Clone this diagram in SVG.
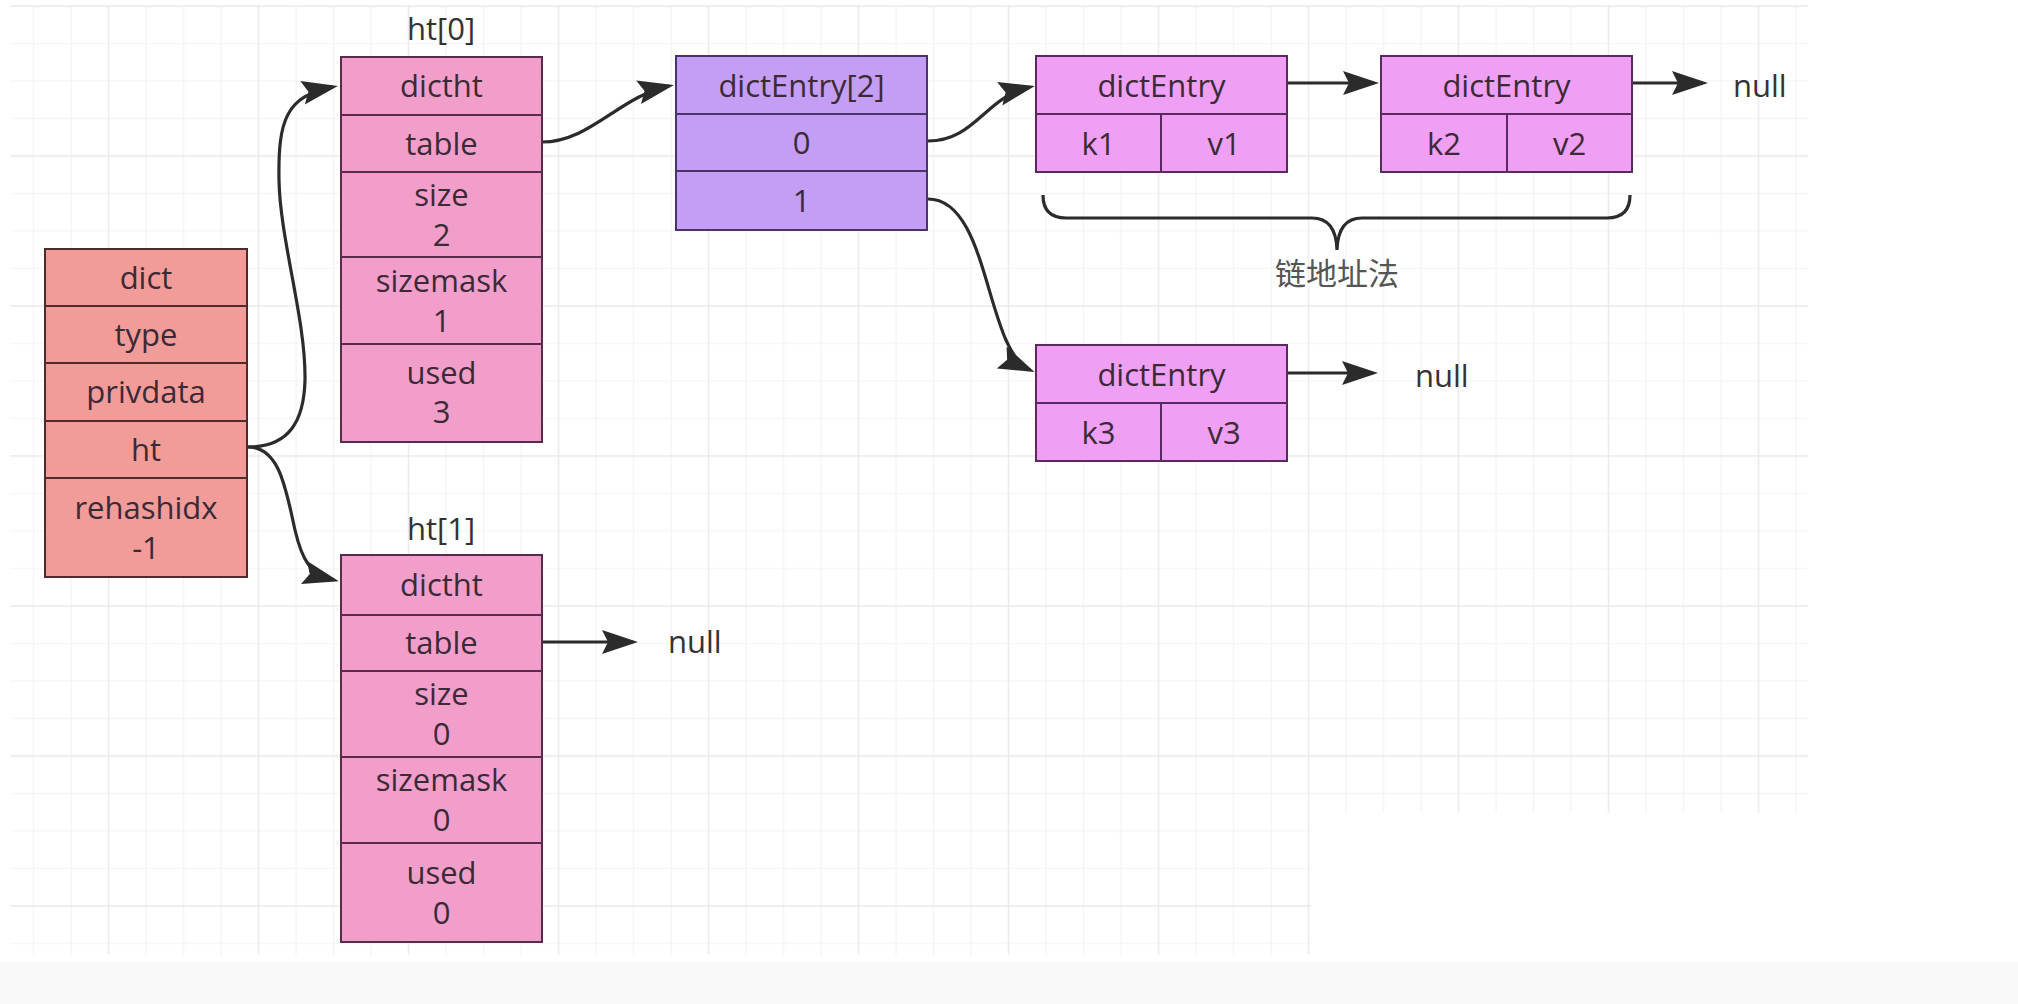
<svg xmlns="http://www.w3.org/2000/svg" width="2018" height="1004" viewBox="0 0 2018 1004">
<style>
  .lbl { font-family: "Open Sans", "Noto Sans", "Liberation Sans", sans-serif; font-size: 31px; fill: #3b2a36; text-anchor: middle; }
  .out { font-family: "Open Sans", "Noto Sans", "Liberation Sans", sans-serif; font-size: 31px; fill: #333333; }
  .cjk { font-family: "Noto Sans CJK SC", "Noto Sans", sans-serif; font-size: 31px; fill: #555555; text-anchor: middle; }
  .dict rect { fill: #f19c99; stroke: #4d2b2b; stroke-width: 2; }
  .ht rect { fill: #f19fca; stroke: #5a2a4e; stroke-width: 2; }
  .arr rect { fill: #c49df4; stroke: #4a3368; stroke-width: 2; }
  .ent rect { fill: #f0a0f4; stroke: #5a2a5e; stroke-width: 2; }
  .ent line { stroke: #5a2a5e; stroke-width: 2; }
  .edge { fill: none; stroke: #2b2b2b; stroke-width: 3.2; marker-end: url(#ah); }
  .brace { fill: none; stroke: #2b2b2b; stroke-width: 3.2; }
</style>
<defs>
  <pattern id="grid" patternUnits="userSpaceOnUse" x="89.75" y="-12.75" width="150" height="150">
    <path d="M56.25,0V150M93.75,0V150M131.25,0V150M0,56.25H150M0,93.75H150M0,131.25H150" stroke="#f2f2f2" stroke-width="1.2" fill="none"/>
    <path d="M18.75,0V150M0,18.75H150" stroke="#e9e9e9" stroke-width="1.4" fill="none"/>
  </pattern>
  <marker id="ah" markerUnits="userSpaceOnUse" markerWidth="38" markerHeight="26" refX="31" refY="13" orient="auto">
    <path d="M0,1 L36,13 L0,25 L6,13 z" fill="#2b2b2b"/>
  </marker>
</defs>

<rect x="0" y="0" width="2018" height="1004" fill="#ffffff"/>
<rect x="10" y="5" width="1798" height="950" fill="url(#grid)"/>
<rect x="1311" y="813" width="498" height="143" fill="#ffffff"/>
<rect x="0" y="962" width="2018" height="42" fill="#f9f9f9"/>

<g id="connectors">
  <path class="edge" d="M248,447 C290,447 304,420 305,380 C306,320 280,240 279,180 C278,120 286,96 333,87"/>
  <path class="edge" d="M248,447 C280,447 286,490 295,530 C302,560 310,574 334,580"/>
  <path class="edge" d="M542,142 C590,142 620,96 669,86"/>
  <path class="edge" d="M542,642 L633,642"/>
  <path class="edge" d="M928,141 C975,141 985,97 1030,87"/>
  <path class="edge" d="M928,199 C990,199 985,350 1030,370"/>
  <path class="edge" d="M1287,83 L1374,83"/>
  <path class="edge" d="M1632,83 L1703,83"/>
  <path class="edge" d="M1287,373 L1373,373"/>
</g>

<g id="dict" class="dict">
  <rect x="45" y="249" width="202" height="57"/>
  <rect x="45" y="306" width="202" height="57"/>
  <rect x="45" y="363" width="202" height="58"/>
  <rect x="45" y="421" width="202" height="57"/>
  <rect x="45" y="478" width="202" height="99"/>
  <text class="lbl" x="146" y="289">dict</text>
  <text class="lbl" x="146" y="346">type</text>
  <text class="lbl" x="146" y="403">privdata</text>
  <text class="lbl" x="146" y="461">ht</text>
  <text class="lbl" x="146" y="519">rehashidx</text>
  <text class="lbl" x="146" y="559">-1</text>
</g>

<g id="ht0" class="ht">
  <text class="out" x="441" y="40" text-anchor="middle">ht[0]</text>
  <rect x="341" y="57" width="201" height="58"/>
  <rect x="341" y="115" width="201" height="57"/>
  <rect x="341" y="172" width="201" height="85"/>
  <rect x="341" y="257" width="201" height="87"/>
  <rect x="341" y="344" width="201" height="98"/>
  <text class="lbl" x="441.5" y="97">dictht</text>
  <text class="lbl" x="441.5" y="155">table</text>
  <text class="lbl" x="441.5" y="206">size</text>
  <text class="lbl" x="441.5" y="246">2</text>
  <text class="lbl" x="441.5" y="292">sizemask</text>
  <text class="lbl" x="441.5" y="332">1</text>
  <text class="lbl" x="441.5" y="384">used</text>
  <text class="lbl" x="441.5" y="423">3</text>
</g>

<g id="ht1" class="ht">
  <text class="out" x="441" y="540" text-anchor="middle">ht[1]</text>
  <rect x="341" y="555" width="201" height="60"/>
  <rect x="341" y="615" width="201" height="56"/>
  <rect x="341" y="671" width="201" height="86"/>
  <rect x="341" y="757" width="201" height="86"/>
  <rect x="341" y="843" width="201" height="99"/>
  <text class="lbl" x="441.5" y="596">dictht</text>
  <text class="lbl" x="441.5" y="654">table</text>
  <text class="lbl" x="441.5" y="705">size</text>
  <text class="lbl" x="441.5" y="745">0</text>
  <text class="lbl" x="441.5" y="791">sizemask</text>
  <text class="lbl" x="441.5" y="831">0</text>
  <text class="lbl" x="441.5" y="884">used</text>
  <text class="lbl" x="441.5" y="924">0</text>
</g>

<g id="null-ht1"><text class="out" x="668" y="653">null</text></g>

<g id="dictEntryArray" class="arr">
  <rect x="676" y="56" width="251" height="58"/>
  <rect x="676" y="114" width="251" height="57"/>
  <rect x="676" y="171" width="251" height="59"/>
  <text class="lbl" x="801.5" y="97">dictEntry[2]</text>
  <text class="lbl" x="801.5" y="154">0</text>
  <text class="lbl" x="801.5" y="212">1</text>
</g>

<g id="entry1" class="ent">
  <rect x="1036" y="56" width="251" height="58"/>
  <rect x="1036" y="114" width="251" height="58"/>
  <line x1="1161" y1="114" x2="1161" y2="172"/>
  <text class="lbl" x="1161.5" y="97">dictEntry</text>
  <text class="lbl" x="1098.5" y="155">k1</text>
  <text class="lbl" x="1224" y="155">v1</text>
</g>

<g id="entry2" class="ent">
  <rect x="1381" y="56" width="251" height="58"/>
  <rect x="1381" y="114" width="251" height="58"/>
  <line x1="1507" y1="114" x2="1507" y2="172"/>
  <text class="lbl" x="1506.5" y="97">dictEntry</text>
  <text class="lbl" x="1444" y="155">k2</text>
  <text class="lbl" x="1569.5" y="155">v2</text>
</g>

<g id="null-entry2"><text class="out" x="1733" y="97">null</text></g>

<g id="entry3" class="ent">
  <rect x="1036" y="345" width="251" height="58"/>
  <rect x="1036" y="403" width="251" height="58"/>
  <line x1="1161" y1="403" x2="1161" y2="461"/>
  <text class="lbl" x="1161.5" y="386">dictEntry</text>
  <text class="lbl" x="1098.5" y="444">k3</text>
  <text class="lbl" x="1224" y="444">v3</text>
</g>

<g id="null-entry3"><text class="out" x="1415" y="387">null</text></g>

<g id="chain-brace">
  <path class="brace" d="M1043,195 Q1043,218 1066,218 L1312,218 Q1336,218 1337,250 Q1338,218 1362,218 L1607,218 Q1630,218 1630,195"/>
  <text class="cjk" x="1337" y="285">链地址法</text>
</g>
</svg>
